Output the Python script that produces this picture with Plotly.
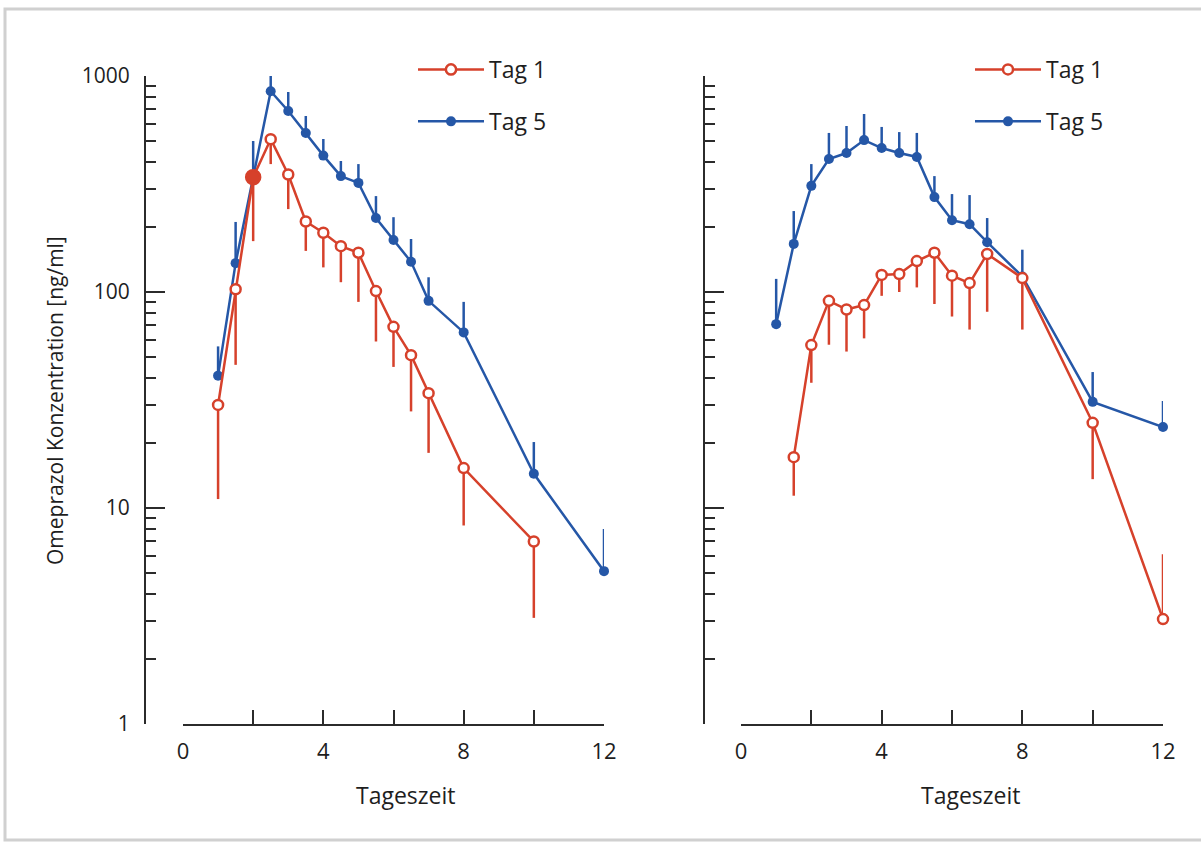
import plotly.graph_objects as go

W, H = 1201, 846

# ---------------- data ----------------
# Left panel
t_left_d1 = [1, 1.5, 2, 2.5, 3, 3.5, 4, 4.5, 5, 5.5, 6, 6.5, 7, 8, 10]
c_left_d1 = [30, 103, 340, 510, 350, 212, 188, 163, 152, 101, 69, 51, 34, 15.3, 7.0]
lo_left_d1 = [11, 46, 172, 391, 242, 155, 130, 111, 90, 59, 45, 28, 18, 8.3, 3.1]

t_left_d5 = [1, 1.5, 2, 2.5, 3, 3.5, 4, 4.5, 5, 5.5, 6, 6.5, 7, 8, 10, 12]
c_left_d5 = [41, 136, 340, 850, 689, 545, 428, 344, 320, 220, 174, 138, 91, 65, 14.4, 5.1]
hi_left_d5 = [56, 211, 500, 1020, 843, 653, 511, 404, 391, 278, 222, 176, 117, 90, 20.2, 8.0]

# Right panel
t_right_d1 = [1.5, 2, 2.5, 3, 3.5, 4, 4.5, 5, 5.5, 6, 6.5, 7, 8, 10, 12]
c_right_d1 = [17.2, 56.8, 91, 83, 87, 120, 121, 139, 152, 119, 110, 150, 116, 24.8, 3.06]
lo_right_d1 = [11.4, 38, 57, 53, 61, 96, 100, 105, 88, 77, 67, 81, 67, 13.6, 3.06]
hi_right_d1 = [17.2, 56.8, 91, 83, 87, 120, 121, 139, 152, 119, 110, 150, 116, 24.8, 6.1]

t_right_d5 = [1, 1.5, 2, 2.5, 3, 3.5, 4, 4.5, 5, 5.5, 6, 6.5, 7, 8, 10, 12]
c_right_d5 = [71, 167, 310, 413, 440, 505, 464, 440, 422, 275, 215, 206, 170, 118, 31, 23.7]
hi_right_d5 = [115, 237, 391, 545, 587, 667, 581, 550, 545, 344, 284, 281, 220, 157, 42.6, 31.3]

x_tickvals = [0, 2, 4, 6, 8, 10, 12]
x_ticktext = ["0", "", "4", "", "8", "", "12"]
y_tickvals = [1, 10, 100, 1000]
y_ticktext_left = ["1", "10", "100", "1000"]
series_names = ["Tag 1", "Tag 5"]

# ---------------- style ----------------
RED = "#d6412b"
BLUE = "#2557a7"
AXC = "#2b2b2b"
TXT = "#1e1e1e"
FONT = "Open Sans, DejaVu Sans, sans-serif"

minor_vals = [m * 10 ** d for d in range(3) for m in range(2, 10)]


def fx(p):
    return p / W


def fy(p):
    return 1 - p / H


def down_err(vals, lows):
    return [v - l for v, l in zip(vals, lows)]


def up_err(vals, highs):
    return [h - v for v, h in zip(vals, highs)]


fig = go.Figure()

# ---- left panel ----
fig.add_trace(go.Scatter(
    x=t_left_d5, y=c_left_d5, name=series_names[1], mode="lines+markers",
    line=dict(color=BLUE, width=2.5),
    marker=dict(symbol="circle", size=10, color=BLUE, opacity=1),
    error_y=dict(type="data", symmetric=False, array=up_err(c_left_d5, hi_left_d5),
                 arrayminus=[0] * len(c_left_d5), color=BLUE, thickness=2.5, width=0),
    xaxis="x", yaxis="y", legend="legend", legendgroup="l5", legendrank=2,
    cliponaxis=False,
))
left_red_fill = [RED if i == 2 else "white" for i in range(len(t_left_d1))]
left_red_size = [14 if i == 2 else 10 for i in range(len(t_left_d1))]
fig.add_trace(go.Scatter(
    x=t_left_d1, y=c_left_d1, name=series_names[0], mode="lines+markers",
    line=dict(color=RED, width=2.5),
    marker=dict(symbol="circle", size=left_red_size, color=left_red_fill, opacity=1,
                line=dict(color=RED, width=2.5)),
    error_y=dict(type="data", symmetric=False, array=[0] * len(c_left_d1),
                 arrayminus=down_err(c_left_d1, lo_left_d1),
                 color=RED, thickness=2.5, width=0),
    xaxis="x", yaxis="y", legend="legend", legendgroup="l1", legendrank=1,
    cliponaxis=False,
))

# ---- right panel ----
fig.add_trace(go.Scatter(
    x=t_right_d5, y=c_right_d5, name=series_names[1], mode="lines+markers",
    line=dict(color=BLUE, width=2.5),
    marker=dict(symbol="circle", size=10, color=BLUE, opacity=1),
    error_y=dict(type="data", symmetric=False, array=up_err(c_right_d5, hi_right_d5),
                 arrayminus=[0] * len(c_right_d5), color=BLUE, thickness=2.5, width=0),
    xaxis="x2", yaxis="y2", legend="legend2", legendgroup="r5", legendrank=2,
    cliponaxis=False,
))
fig.add_trace(go.Scatter(
    x=t_right_d1, y=c_right_d1, name=series_names[0], mode="lines+markers",
    line=dict(color=RED, width=2.5),
    marker=dict(symbol="circle", size=10, color="white", opacity=1,
                line=dict(color=RED, width=2.5)),
    error_y=dict(type="data", symmetric=False, array=up_err(c_right_d1, hi_right_d1),
                 arrayminus=down_err(c_right_d1, lo_right_d1),
                 color=RED, thickness=2.5, width=0),
    xaxis="x2", yaxis="y2", legend="legend2", legendgroup="r1", legendrank=1,
    cliponaxis=False,
))

y_dom = [fy(724), fy(76)]

xcommon = dict(
    range=[0, 12], tickmode="array", tickvals=x_tickvals, ticktext=x_ticktext,
    ticks="inside", ticklen=14, tickwidth=2, tickcolor=AXC, automargin=False,
    showline=True, linecolor=AXC, linewidth=2, showgrid=False, zeroline=False,
    tickfont=dict(family=FONT, size=22, color=TXT), ticklabelstandoff=7,
)
ycommon = dict(
    type="log", range=[0, 3], domain=y_dom, tickmode="array", tickvals=y_tickvals,
    ticks="inside", ticklen=19, tickwidth=2, tickcolor=AXC, automargin=False,
    minor=dict(tickmode="array", tickvals=minor_vals, ticks="inside", ticklen=10,
               tickwidth=2, tickcolor=AXC, showgrid=False),
    showline=True, linecolor=AXC, linewidth=2, showgrid=False, zeroline=False,
    anchor="free", tickfont=dict(family=FONT, size=21, color=TXT),
)

legend_common = dict(
    xanchor="left", yanchor="top", bgcolor="rgba(0,0,0,0)",
    font=dict(family=FONT, size=23, color=TXT),
    traceorder="grouped", tracegroupgap=19, itemwidth=66,
)

fig.update_layout(
    width=W, height=H,
    margin=dict(l=0, r=0, t=0, b=0, pad=0, autoexpand=False),
    paper_bgcolor="white", plot_bgcolor="white",
    font=dict(family=FONT, color=TXT),
    xaxis=dict(domain=[fx(183), fx(604)], anchor="y", **xcommon),
    xaxis2=dict(domain=[fx(741), fx(1163)], anchor="y2", **xcommon),
    yaxis=dict(position=fx(145), ticktext=y_ticktext_left, showticklabels=True,
               ticklabelstandoff=10, **ycommon),
    yaxis2=dict(position=fx(704), ticktext=["", "", "", ""], showticklabels=False,
                **ycommon),
    legend=dict(x=fx(413), y=fy(48), **legend_common),
    legend2=dict(x=fx(970), y=fy(48), **legend_common),
    annotations=[
        dict(text="Omeprazol Konzentration [ng/ml]", x=fx(55), y=fy(401),
             xanchor="center", yanchor="middle",
             xref="paper", yref="paper", showarrow=False, textangle=-90,
             font=dict(family=FONT, size=21, color=TXT)),
        dict(text="Tageszeit", x=fx(406), y=fy(795), xanchor="center", yanchor="middle",
             xref="paper", yref="paper", showarrow=False,
             font=dict(family=FONT, size=23, color=TXT)),
        dict(text="Tageszeit", x=fx(971), y=fy(795), xanchor="center", yanchor="middle",
             xref="paper", yref="paper", showarrow=False,
             font=dict(family=FONT, size=23, color=TXT)),
    ],
    shapes=[dict(type="rect", xref="paper", yref="paper", x0=fx(5), x1=fx(1220),
                 y0=fy(840), y1=fy(9), line=dict(color="#d0d0d0", width=3))],
)

fig.write_html("out.html")
